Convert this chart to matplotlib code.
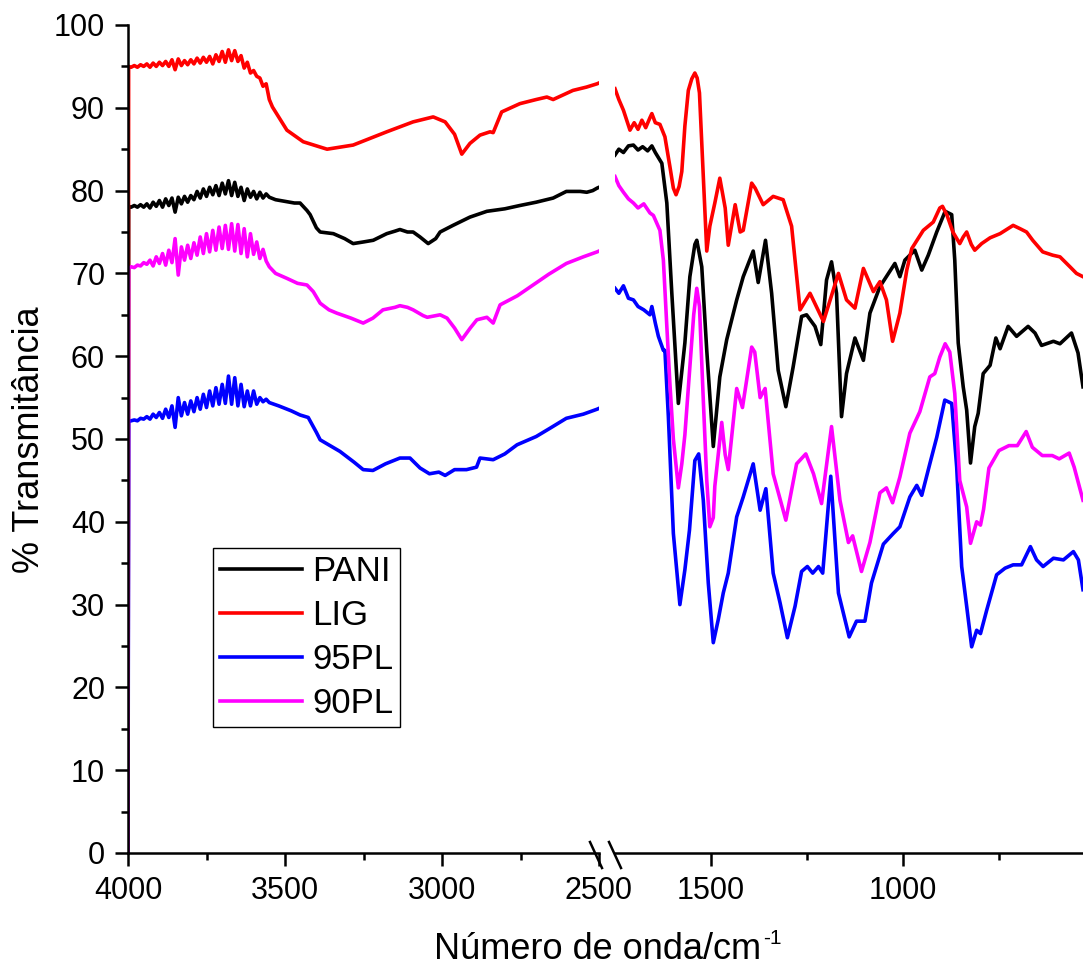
import matplotlib
matplotlib.use("Agg")
import matplotlib.pyplot as plt
from matplotlib.lines import Line2D

plt.rcParams['font.family'] = ['Liberation Sans', 'DejaVu Sans']

# ---- left part of the spectrum (4000 - 2500 cm-1) ----
pani_wn_l = [4000, 3998, 3990, 3980, 3970, 3960, 3950, 3940, 3930, 3920, 3910, 3900, 3890, 3880, 3870,
             3860, 3850, 3840, 3830, 3820, 3810, 3800, 3790, 3780, 3770, 3760, 3750, 3740, 3730, 3720,
             3710, 3700, 3690, 3680, 3670, 3660, 3650, 3640, 3630, 3620, 3610, 3600, 3590, 3580, 3570,
             3560, 3550, 3530, 3500, 3470, 3452, 3430, 3420, 3400, 3388, 3346, 3310, 3283, 3250, 3219,
             3176, 3150, 3134, 3110, 3092, 3070, 3044, 3020, 3006, 2965, 2911, 2857, 2800, 2752, 2700,
             2646, 2604, 2560, 2539, 2520, 2506, 2500]
pani_t_l = [0, 78.1, 78.0, 78.2, 78.0, 78.3, 78.0, 78.4, 77.9, 78.6, 78.1, 78.8, 78.0, 79.0, 78.2,
            79.1, 77.4, 79.2, 78.4, 79.3, 78.6, 79.4, 78.9, 79.9, 79.1, 80.2, 79.3, 80.4, 79.5, 80.6,
            79.4, 80.9, 79.6, 81.2, 79.4, 81.0, 79.3, 80.4, 78.8, 80.2, 79.2, 79.9, 79.0, 79.8, 79.1,
            79.6, 79.2, 78.9, 78.7, 78.5, 78.5, 77.6, 77.1, 75.5, 75.0, 74.8, 74.2, 73.6, 73.8, 74.0,
            74.8, 75.1, 75.3, 75.0, 75.0, 74.4, 73.6, 74.2, 75.0, 75.8, 76.8, 77.5, 77.8, 78.2, 78.6,
            79.1, 79.9, 79.9, 79.8, 80.0, 80.3, 80.4]

lig_wn_l = [4000, 3998, 3990, 3980, 3970, 3960, 3950, 3940, 3930, 3920, 3910, 3900, 3890, 3880, 3870,
            3860, 3850, 3840, 3830, 3820, 3810, 3800, 3790, 3780, 3770, 3760, 3750, 3740, 3730, 3720,
            3710, 3700, 3690, 3680, 3670, 3660, 3650, 3640, 3630, 3620, 3610, 3600, 3590, 3580, 3570,
            3560, 3550, 3540, 3494, 3442, 3366, 3283, 3176, 3092, 3028, 2990, 2960, 2937, 2911, 2879,
            2847, 2837, 2810, 2752, 2700, 2666, 2646, 2583, 2540, 2506, 2500]
lig_t_l = [0, 95.0, 94.9, 95.1, 94.9, 95.2, 95.0, 95.3, 94.9, 95.4, 95.0, 95.5, 95.1, 95.6, 95.0,
           95.8, 94.6, 95.9, 95.1, 95.7, 95.2, 95.8, 95.3, 96.0, 95.4, 96.1, 95.5, 96.2, 95.3, 96.4,
           95.6, 96.8, 95.5, 97.0, 95.7, 96.9, 95.6, 96.3, 94.8, 95.5, 94.2, 94.5, 93.8, 93.6, 92.6,
           92.9, 91.0, 90.1, 87.3, 85.9, 85.0, 85.5, 87.1, 88.3, 88.9, 88.3, 86.8, 84.4, 85.7, 86.7,
           87.1, 87.0, 89.5, 90.5, 91.0, 91.3, 91.0, 92.1, 92.5, 92.9, 93.0]

p95_wn_l = [4000, 3998, 3990, 3980, 3970, 3960, 3950, 3940, 3930, 3920, 3910, 3900, 3890, 3880, 3870,
            3860, 3850, 3840, 3830, 3820, 3810, 3800, 3790, 3780, 3770, 3760, 3750, 3740, 3730, 3720,
            3710, 3700, 3690, 3680, 3670, 3660, 3650, 3640, 3630, 3620, 3610, 3600, 3590, 3580, 3570,
            3560, 3550, 3520, 3480, 3452, 3426, 3400, 3388, 3325, 3280, 3251, 3220, 3180, 3134, 3102,
            3070, 3040, 3010, 2990, 2960, 2922, 2890, 2879, 2837, 2800, 2761, 2700, 2656, 2604, 2550,
            2506, 2500]
p95_t_l = [0, 52.1, 52.2, 52.3, 52.2, 52.5, 52.4, 52.7, 52.4, 53.0, 52.6, 53.2, 52.5, 53.6, 52.6,
           54.0, 51.4, 55.0, 52.8, 54.4, 53.0, 54.6, 53.3, 55.0, 53.6, 55.4, 53.8, 55.8, 54.0, 56.2,
           54.2, 56.6, 54.3, 57.6, 54.2, 57.4, 54.0, 56.6, 53.9, 55.8, 54.0, 55.8, 54.2, 55.0, 54.5,
           54.8, 54.4, 54.0, 53.4, 52.9, 52.6, 50.8, 49.9, 48.5, 47.2, 46.3, 46.2, 47.0, 47.7, 47.7,
           46.5, 45.8, 46.0, 45.6, 46.3, 46.3, 46.6, 47.7, 47.5, 48.2, 49.3, 50.3, 51.3, 52.5, 53.0,
           53.6, 53.7]

p90_wn_l = [4000, 3998, 3990, 3980, 3970, 3960, 3950, 3940, 3930, 3920, 3910, 3900, 3890, 3880, 3870,
            3860, 3850, 3840, 3830, 3820, 3810, 3800, 3790, 3780, 3770, 3760, 3750, 3740, 3730, 3720,
            3710, 3700, 3690, 3680, 3670, 3660, 3650, 3640, 3630, 3620, 3610, 3600, 3590, 3580, 3570,
            3560, 3550, 3530, 3494, 3460, 3430, 3410, 3388, 3360, 3335, 3290, 3251, 3220, 3188, 3150,
            3134, 3110, 3092, 3060, 3047, 3006, 2984, 2960, 2937, 2910, 2889, 2857, 2837, 2815, 2760,
            2710, 2660, 2604, 2550, 2506, 2500]
p90_t_l = [0, 70.6, 70.8, 70.7, 71.0, 70.9, 71.3, 71.1, 71.6, 70.9, 72.0, 71.2, 72.4, 71.0, 72.8,
           71.3, 74.2, 69.8, 73.2, 71.6, 73.4, 71.8, 73.7, 72.2, 74.4, 72.4, 74.8, 72.6, 75.2, 72.8,
           75.6, 73.0, 75.8, 72.9, 76.0, 72.7, 75.9, 72.4, 75.4, 72.0, 74.8, 72.3, 73.8, 71.8, 72.9,
           71.5, 70.8, 70.0, 69.4, 68.8, 68.6, 67.8, 66.4, 65.6, 65.2, 64.6, 64.0, 64.6, 65.6, 65.9,
           66.1, 65.9, 65.6, 64.9, 64.7, 65.0, 64.6, 63.4, 62.0, 63.4, 64.4, 64.7, 64.0, 66.2, 67.3,
           68.6, 69.9, 71.2, 72.0, 72.6, 72.7]

# ---- right part of the spectrum (1750 - 530 cm-1) ----
pani_wn_r = [1750, 1740, 1728, 1715, 1702, 1690, 1678, 1665, 1654, 1645, 1628, 1615, 1602, 1585, 1568,
             1555, 1542, 1537, 1524, 1511, 1494, 1477, 1459, 1433, 1416, 1390, 1377, 1358, 1342, 1325,
             1305, 1286, 1264, 1251, 1229, 1214, 1199, 1186, 1173, 1160, 1147, 1125, 1103, 1086, 1060,
             1021, 1008, 995, 969, 951, 934, 912, 890, 873, 865, 856, 843, 834, 824, 813,
             804, 791, 773, 758, 747, 726, 704, 674, 656, 639, 608, 591, 561, 544, 531]
pani_t_r = [84.3, 85.0, 84.6, 85.4, 85.5, 84.9, 85.3, 84.8, 85.4, 84.6, 83.3, 78.5, 67.6, 54.3, 61.6,
            69.6, 73.5, 74.0, 70.8, 60.7, 49.1, 57.5, 62.0, 66.8, 69.6, 72.7, 68.9, 74.0, 67.6, 58.3,
            53.9, 58.7, 64.8, 65.0, 63.6, 61.4, 69.2, 71.4, 67.6, 52.7, 57.9, 62.2, 59.5, 65.2, 68.4,
            71.2, 69.6, 71.6, 72.8, 70.4, 72.2, 75.0, 77.5, 77.1, 71.6, 61.6, 56.3, 53.5, 47.1, 51.5,
            53.1, 57.9, 58.9, 62.2, 60.9, 63.6, 62.4, 63.6, 62.8, 61.3, 61.8, 61.5, 62.8, 60.4, 56.3]

lig_wn_r = [1750, 1740, 1728, 1711, 1700, 1690, 1680, 1670, 1659, 1654, 1645, 1633, 1620, 1607, 1598,
            1591, 1583, 1576, 1568, 1559, 1550, 1542, 1536, 1530, 1520, 1511, 1503, 1490, 1477, 1463,
            1455, 1437, 1424, 1416, 1394, 1385, 1364, 1338, 1312, 1290, 1268, 1242, 1207, 1168, 1147,
            1125, 1103, 1077, 1060, 1043, 1027, 1008, 990, 977, 947, 921, 904, 897, 885, 870,
            852, 843, 834, 822, 813, 795, 773, 747, 730, 713, 695, 678, 662, 636, 610,
            591, 565, 548, 531]
lig_t_r = [92.3, 91.0, 89.7, 87.3, 88.2, 87.4, 88.5, 87.6, 88.8, 89.3, 88.2, 88.0, 86.5, 82.9, 80.3,
           79.5, 80.5, 82.3, 87.8, 92.1, 93.5, 94.2, 93.6, 91.8, 81.7, 72.7, 75.7, 78.5, 81.5, 77.9,
           73.4, 78.3, 75.0, 75.2, 80.9, 80.3, 78.3, 79.3, 78.9, 75.7, 65.6, 67.6, 64.2, 70.0, 66.8,
           65.8, 70.6, 67.8, 69.0, 66.8, 61.8, 65.2, 70.4, 73.0, 75.2, 76.2, 77.9, 78.1, 77.0, 75.0,
           73.6, 74.4, 75.0, 73.5, 72.8, 73.6, 74.3, 74.8, 75.3, 75.8, 75.4, 75.0, 74.0, 72.6, 72.2,
           72.0, 70.8, 70.0, 69.6]

p95_wn_r = [1750, 1740, 1728, 1715, 1702, 1690, 1675, 1659, 1654, 1645, 1637, 1624, 1620, 1611, 1598,
            1581, 1568, 1556, 1542, 1532, 1520, 1507, 1494, 1481, 1468, 1455, 1433, 1416, 1390, 1372,
            1357, 1338, 1320, 1301, 1281, 1264, 1249, 1235, 1220, 1209, 1188, 1168, 1140, 1121, 1099,
            1082, 1051, 1025, 1008, 982, 964, 951, 930, 912, 891, 873, 860, 847, 834, 821,
            808, 798, 782, 756, 734, 713, 691, 668, 652, 635, 608, 582, 556, 543, 531]
p95_t_r = [68.2, 67.6, 68.5, 67.0, 66.8, 66.0, 65.6, 65.0, 66.0, 64.0, 62.4, 60.7, 60.7, 52.7, 38.6,
           30.0, 34.2, 39.0, 47.4, 48.2, 42.6, 32.6, 25.4, 28.2, 31.4, 33.8, 40.6, 43.0, 47.0, 41.4,
           44.0, 33.8, 30.2, 26.0, 29.8, 34.0, 34.6, 33.8, 34.6, 33.8, 45.5, 31.4, 26.1, 28.0, 28.0,
           32.6, 37.3, 38.6, 39.4, 43.0, 44.4, 43.2, 47.0, 50.2, 54.7, 54.3, 46.6, 34.6, 29.8, 24.9,
           26.9, 26.5, 29.3, 33.6, 34.4, 34.8, 34.8, 37.0, 35.4, 34.6, 35.6, 35.4, 36.4, 35.4, 31.8]

p90_wn_r = [1750, 1740, 1728, 1715, 1702, 1690, 1675, 1659, 1650, 1633, 1624, 1615, 1607, 1598, 1585,
            1576, 1568, 1555, 1545, 1537, 1530, 1520, 1511, 1503, 1494, 1490, 1472, 1463, 1455, 1433,
            1418, 1394, 1386, 1372, 1359, 1338, 1305, 1277, 1253, 1233, 1212, 1186, 1164, 1142, 1131,
            1108, 1086, 1060, 1043, 1027, 1008, 982, 956, 930, 917, 904, 890, 878, 865, 852,
            834, 824, 808, 798, 790, 776, 750, 724, 702, 679, 663, 637, 611, 593, 567,
            554, 531]
p90_t_r = [81.7, 80.6, 79.8, 79.0, 78.5, 77.9, 78.4, 77.3, 77.0, 75.2, 71.6, 63.6, 56.7, 50.0, 44.1,
           47.0, 50.5, 58.7, 65.0, 68.2, 66.0, 54.7, 45.0, 39.4, 40.5, 44.3, 52.0, 48.1, 46.3, 56.1,
           53.8, 61.1, 60.5, 55.0, 56.1, 45.8, 40.2, 47.0, 48.2, 45.8, 42.2, 51.5, 42.6, 37.5, 38.3,
           34.0, 37.5, 43.5, 44.1, 42.3, 45.4, 50.7, 53.3, 57.5, 57.9, 59.9, 61.5, 60.5, 55.5, 45.0,
           41.8, 37.4, 40.0, 39.6, 41.5, 46.5, 48.6, 49.2, 49.2, 50.9, 49.0, 48.0, 48.0, 47.6, 48.3,
           46.6, 42.6]

labels = ['PANI', 'LIG', '95PL', '90PL']
colors = ['#000000', '#ff0000', '#0000ff', '#ff00ff']
left_data = [(pani_wn_l, pani_t_l), (lig_wn_l, lig_t_l), (p95_wn_l, p95_t_l), (p90_wn_l, p90_t_l)]
right_data = [(pani_wn_r, pani_t_r), (lig_wn_r, lig_t_r), (p95_wn_r, p95_t_r), (p90_wn_r, p90_t_r)]

W, H = 1083, 967
fig = plt.figure(figsize=(W / 100, H / 100), dpi=100)
ax1 = fig.add_axes([128 / W, 114 / H, 471 / W, 828 / H])
ax2 = fig.add_axes([615 / W, 114 / H, 468 / W, 828 / H], sharey=ax1)

lines = []
for (x, y), c, lab in zip(left_data, colors, labels):
    ln, = ax1.plot(x, y, color=c, lw=2.6, label=lab)
    lines.append(ln)
for (x, y), c in zip(right_data, colors):
    ax2.plot(x, y, color=c, lw=2.6)

ax1.set_xlim(4000, 2500)
ax2.set_xlim(1750, 531)
ax1.set_ylim(0, 100)
ax1.set_yticks(range(0, 101, 10))
ax1.set_yticks(range(5, 100, 10), minor=True)
ax1.set_xticks([4000, 3500, 3000, 2500])
ax1.set_xticks([3750, 3250, 2750], minor=True)
ax2.set_xticks([1500, 1000])
ax2.set_xticks([1250, 750], minor=True)

for ax in (ax1, ax2):
    ax.spines['top'].set_visible(False)
    ax.spines['right'].set_visible(False)
    ax.spines['bottom'].set_linewidth(1.8)
    ax.spines['left'].set_linewidth(1.8)
    ax.tick_params(which='major', direction='out', length=9.5, width=1.8, labelsize=22, pad=7)
    ax.tick_params(which='minor', direction='out', length=4.7, width=1.8)
ax2.spines['left'].set_visible(False)
ax2.tick_params(axis='y', which='both', left=False, labelleft=False)

# axis break marks
for cx in (596, 615):
    fig.add_artist(Line2D([(cx - 6) / W, (cx + 6) / W], [1 - 842 / H, 1 - 868 / H],
                          color='black', lw=1.8))

fig.text(30 / W, 1 - 440 / H, '% Transmitância', rotation=90, ha='center', va='center', fontsize=26)

# x label with a plain "-1" superscript
xl = fig.text(434 / W, 1 - 959 / H, 'Número de onda/cm', ha='left', va='baseline', fontsize=26)
fig.canvas.draw()
bb = xl.get_window_extent()
fig.text((bb.x1 + 2) / W, 1 - 944 / H, '-1', ha='left', va='baseline', fontsize=15)

leg = ax1.legend(handles=lines, loc='upper left', bbox_to_anchor=(213 / W, 1 - 548 / H),
                 bbox_transform=fig.transFigure, borderaxespad=0, fontsize=25, frameon=True,
                 fancybox=False, framealpha=1, edgecolor='black', handlelength=2.36,
                 handletextpad=0.3, borderpad=0.2, labelspacing=0.32)
leg.get_frame().set_linewidth(1.0)

fig.savefig('out.png', dpi=100)
